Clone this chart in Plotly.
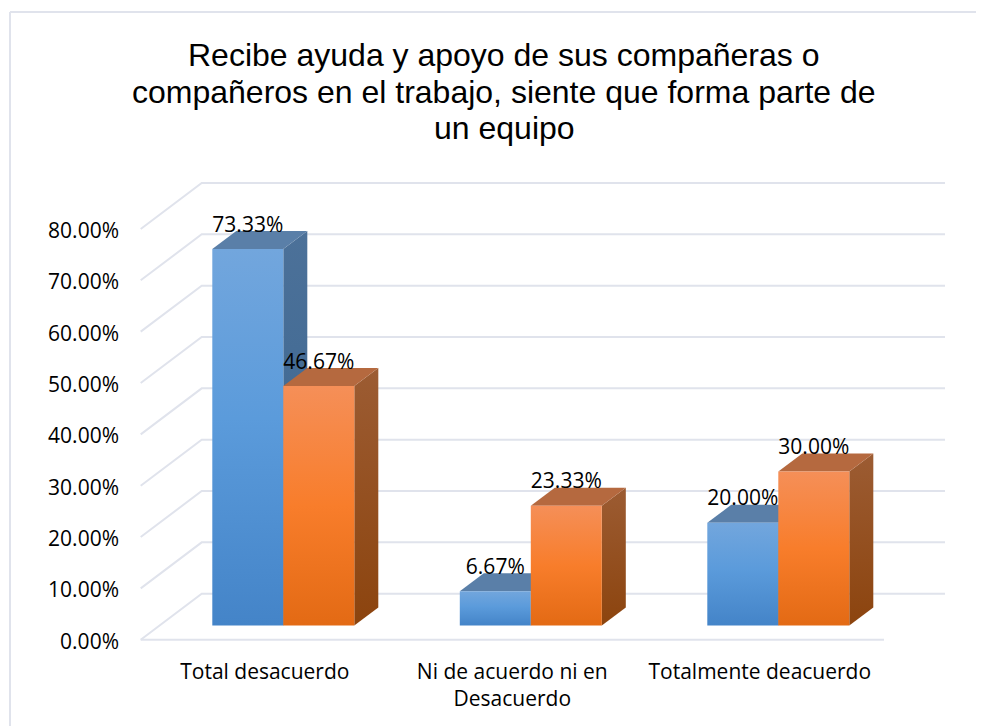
"""Recibe ayuda y apoyo: pseudo-3D clustered columns drawn on plain cartesian axes."""

import plotly.graph_objects as go

# the page keeps its 8px body margin, so all positions below are page px minus 8
W, H = 976, 718
PAGE = 8

CATEGORIES = ["Total desacuerdo", "Ni de acuerdo ni en<br>Desacuerdo", "Totalmente deacuerdo"]
SERIES_A = [73.33, 6.67, 20.00]
SERIES_B = [46.67, 23.33, 30.00]
Y_TICKS = [0, 10, 20, 30, 40, 50, 60, 70, 80]
Y_LABELS = ["0.00%", "10.00%", "20.00%", "30.00%", "40.00%", "50.00%", "60.00%", "70.00%", "80.00%"]
TITLE_LINES = [
    "Recibe ayuda y apoyo de sus compañeras o",
    "compañeros en el trabajo, siente que forma parte de",
    "un equipo",
]

# pixel scale of the axes: 247.5 px per category, 5.134 px per percent
PX_X = 247.5
PX_Y = 5.134
X0_PX, Y0_PX = 283.3 - PAGE, 625.5 - PAGE

BAR_W = 71 / PX_X
DEPTH_X, DEPTH_Y = 24 / PX_X, 18 / PX_Y
FRONT_DX, FRONT_DY = (140.7 - 283.3) / PX_X, -14.2 / PX_Y
WALL_DX, WALL_DY = 61 / PX_X, 46 / PX_Y
FLOOR_RIGHT = (884 - 283.3) / PX_X
BACK_RIGHT = (945 - 283.3) / PX_X
GRID = "#e0e3ec"
LABEL_FONT = "Open Sans"

BLUE = dict(
    front=[[0, "#4484c8"], [0.55, "#5b9bdb"], [1, "#72a6dd"]],
    top="#5a7fa8",
    side=[[0, "#38648f"], [1, "#4c7199"]],
)
ORANGE = dict(
    front=[[0, "#e36a14"], [0.5, "#f87d2b"], [1, "#f58f58"]],
    top="#b5693f",
    side=[[0, "#8c440e"], [1, "#9c5c33"]],
)


def face(xs, ys, color=None, scale=None):
    args = dict(x=xs, y=ys, mode="none", fill="toself", hoverinfo="skip", showlegend=False)
    if scale:
        args["fillgradient"] = dict(type="vertical", colorscale=scale)
    else:
        args["fillcolor"] = color
    return go.Scatter(**args)


def grid_line(xs, ys):
    return go.Scatter(
        x=xs, y=ys, mode="lines", line=dict(color=GRID, width=2),
        hoverinfo="skip", showlegend=False,
    )


def add_bar(fig, left, value, style):
    right = left + BAR_W
    fig.add_trace(face(
        [right, right + DEPTH_X, right + DEPTH_X, right],
        [0, DEPTH_Y, value + DEPTH_Y, value],
        scale=style["side"],
    ))
    fig.add_trace(face(
        [left, right, right + DEPTH_X, left + DEPTH_X],
        [value, value, value + DEPTH_Y, value + DEPTH_Y],
        color=style["top"],
    ))
    fig.add_trace(face([left, right, right, left], [0, 0, value, value], scale=style["front"]))


fig = go.Figure()

# walls and floor
for tick in Y_TICKS:
    y_front = tick + FRONT_DY
    fig.add_trace(grid_line(
        [FRONT_DX, FRONT_DX + WALL_DX, BACK_RIGHT],
        [y_front, y_front + WALL_DY, y_front + WALL_DY],
    ))
fig.add_trace(grid_line([FRONT_DX, FLOOR_RIGHT], [FRONT_DY, FRONT_DY]))

# columns, back to front so the orange face covers the blue side
for i, (a, b) in enumerate(zip(SERIES_A, SERIES_B)):
    add_bar(fig, i - BAR_W, a, BLUE)
    add_bar(fig, i, b, ORANGE)

# data labels sit above the front face of each column
label_x, label_y, label_text = [], [], []
for i, (a, b) in enumerate(zip(SERIES_A, SERIES_B)):
    label_x += [i - BAR_W / 2, i + BAR_W / 2]
    label_y += [a + 4.4, b + 4.4]
    label_text += [f"{a:.2f}%", f"{b:.2f}%"]
fig.add_trace(go.Scatter(
    x=label_x, y=label_y, text=label_text, mode="text", textposition="middle center",
    textfont=dict(family=LABEL_FONT, size=21, color="#000000"), hoverinfo="skip", showlegend=False,
))

# the title is set line by line, the original leading is tighter than plotly's <br>
for line, y_px in zip(TITLE_LINES, [55, 92, 128]):
    fig.add_annotation(
        text=line,
        xref="paper",
        yref="paper",
        x=(504 - PAGE) / W,
        y=1 - (y_px - PAGE) / H,
        xanchor="center",
        yanchor="middle",
        showarrow=False,
        font=dict(family="Liberation Sans", size=32, color="#000000"),
    )

fig.update_layout(
    width=W,
    height=H,
    margin=dict(l=0, r=0, t=0, b=0),
    paper_bgcolor="#ffffff",
    plot_bgcolor="#ffffff",
    showlegend=False,
    font=dict(family=LABEL_FONT, color="#000000"),
    shapes=[
        dict(type="line", xref="paper", yref="paper", x0=2 / W, x1=1, y0=1 - 4 / H, y1=1 - 4 / H,
             line=dict(color=GRID, width=2)),
        dict(type="line", xref="paper", yref="paper", x0=2 / W, x1=2 / W, y0=0, y1=1 - 4 / H,
             line=dict(color=GRID, width=2)),
    ],
)
fig.update_xaxes(
    range=[-X0_PX / PX_X, (W - X0_PX) / PX_X],
    tickmode="array",
    tickvals=[i - 18.5 / PX_X for i in range(len(CATEGORIES))],
    ticktext=CATEGORIES,
    tickfont=dict(family=LABEL_FONT, size=21),
    anchor="free",
    position=1 - 649 / H,
    showgrid=False,
    zeroline=False,
    showline=False,
    ticks="",
)
fig.update_yaxes(
    range=[(Y0_PX - H) / PX_Y, Y0_PX / PX_Y],
    tickmode="array",
    tickvals=[t + FRONT_DY - 0.3 for t in Y_TICKS],
    ticktext=Y_LABELS,
    tickfont=dict(family=LABEL_FONT, size=21),
    anchor="free",
    position=111 / W,
    showgrid=False,
    zeroline=False,
    showline=False,
    ticks="",
)

fig.write_html("out.html")
